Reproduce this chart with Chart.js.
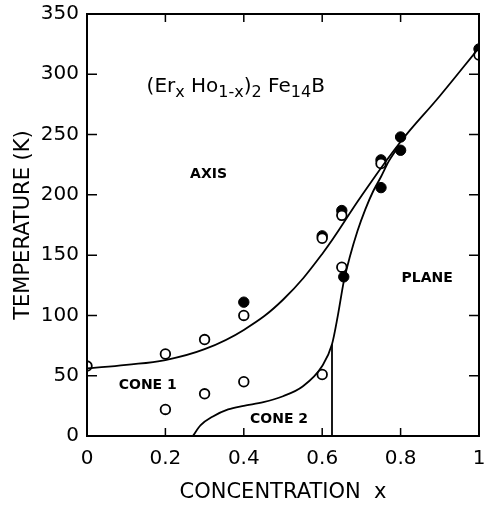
<!DOCTYPE html>
<html>
<head>
<meta charset="utf-8">
<script src="https://cdn.jsdelivr.net/npm/chart.js@4/dist/chart.umd.min.js"></script>
<style>
  html, body { margin: 0; padding: 0; background: #fff; }
</style>
</head>
<body>
<canvas id="chart" width="489" height="505"></canvas>
<script>
// measured points (open = one method, filled = the other)
const openX = [0, 0.2, 0.3, 0.4, 0.2, 0.3, 0.4, 0.6, 0.6, 0.65, 0.65, 0.75, 1.0];
const openY = [58, 68, 80, 100, 22, 35, 45, 51, 164, 183, 140, 226, 316];
const filledX = [0.4, 0.6, 0.65, 0.655, 0.75, 0.75, 0.8, 0.8, 1.0];
const filledY = [111, 166, 187, 132, 229, 206, 248, 237, 321];

// phase boundaries
const upperX = [0, 0.1, 0.2, 0.3, 0.4, 0.5, 0.6, 0.7, 0.8, 0.9, 1.0];
const upperY = [56, 59, 63, 72, 88, 113, 151, 199, 244, 282, 322];
const lowerX = [0.27, 0.29, 0.32, 0.36, 0.4, 0.45, 0.5, 0.55, 0.6, 0.625, 0.64, 0.655, 0.67, 0.69, 0.71, 0.73, 0.75, 0.77, 0.79];
const lowerY = [0, 9, 16, 22, 25, 28, 33, 41, 58, 76, 100, 128, 148, 170, 188, 203, 215, 228, 238];
const wallX = [0.625, 0.625];
const wallY = [0, 76];

const xTicks = [0, 0.2, 0.4, 0.6, 0.8, 1];
const yTicks = [0, 50, 100, 150, 200, 250, 300, 350];

const regionLabels = [
  { text: "AXIS", x: 0.31, y: 217 },
  { text: "CONE 1", x: 0.155, y: 42 },
  { text: "CONE 2", x: 0.49, y: 14 },
  { text: "PLANE", x: 0.868, y: 131 },
];

const pts = (xs, ys) => xs.map((x, i) => ({ x: x, y: ys[i] }));
const FONT = "'DejaVu Sans', sans-serif";

// frame, inward ticks, region names and the formula
const decor = {
  id: "decor",
  afterDatasetsDraw(chart) {
    const { ctx, chartArea: a, scales } = chart;
    ctx.save();
    ctx.strokeStyle = "#000";
    ctx.lineWidth = 2;
    ctx.strokeRect(a.left, a.top, a.right - a.left, a.bottom - a.top);
    ctx.lineWidth = 1.5;
    xTicks.forEach(v => {
      const px = scales.x.getPixelForValue(v);
      ctx.beginPath();
      ctx.moveTo(px, a.bottom); ctx.lineTo(px, a.bottom - 8);
      ctx.moveTo(px, a.top); ctx.lineTo(px, a.top + 8);
      ctx.stroke();
    });
    yTicks.forEach(v => {
      const py = scales.y.getPixelForValue(v);
      ctx.beginPath();
      ctx.moveTo(a.left, py); ctx.lineTo(a.left + 10, py);
      ctx.moveTo(a.right, py); ctx.lineTo(a.right - 10, py);
      ctx.stroke();
    });

    ctx.fillStyle = "#000";
    ctx.font = "bold 14px " + FONT;
    ctx.textAlign = "center";
    ctx.textBaseline = "middle";
    regionLabels.forEach(l => {
      ctx.fillText(l.text, scales.x.getPixelForValue(l.x), scales.y.getPixelForValue(l.y));
    });

    // (Er_x Ho_1-x)_2 Fe_14 B
    const parts = [
      ["(Er", 0], ["x", 1], [" Ho", 0], ["1-x", 1], [")", 0], ["2", 1], [" Fe", 0], ["14", 1], ["B", 0],
    ];
    let cx = scales.x.getPixelForValue(0.152);
    const base = scales.y.getPixelForValue(285);
    ctx.textAlign = "left";
    ctx.textBaseline = "alphabetic";
    parts.forEach(([t, sub]) => {
      ctx.font = (sub ? "16px " : "20px ") + FONT;
      ctx.fillText(t, cx, base + (sub ? 5 : 0));
      cx += ctx.measureText(t).width;
    });
    ctx.restore();
  },
};

const lineStyle = { showLine: true, pointRadius: 0, borderColor: "#000", borderWidth: 1.8, fill: false };

new Chart(document.getElementById("chart"), {
  type: "scatter",
  plugins: [decor],
  data: {
    datasets: [
      { ...lineStyle, data: pts(upperX, upperY), tension: 0.4 },
      { ...lineStyle, data: pts(lowerX, lowerY), cubicInterpolationMode: "monotone" },
      { ...lineStyle, data: pts(wallX, wallY) },
      {
        data: pts(openX, openY), pointRadius: 4.8, pointBorderWidth: 1.8,
        pointBackgroundColor: "#fff", pointBorderColor: "#000",
      },
      {
        data: pts(filledX, filledY), pointRadius: 5.2, pointBorderWidth: 1,
        pointBackgroundColor: "#000", pointBorderColor: "#000",
      },
    ],
  },
  options: {
    responsive: false,
    maintainAspectRatio: false,
    animation: false,
    layout: { padding: { top: 14, right: 10, left: 0, bottom: 0 } },
    plugins: { legend: { display: false }, tooltip: { enabled: false } },
    scales: {
      x: {
        type: "linear", min: 0, max: 1,
        afterFit: s => { s.height = 69; s.paddingLeft = 0; s.paddingRight = 0; },
        afterBuildTicks: s => { s.ticks = xTicks.map(v => ({ value: v })); },
        grid: { display: false, drawTicks: false },
        border: { display: false },
        ticks: {
          color: "#000", padding: 11, font: { family: FONT, size: 20 },
          callback: v => String(v),
        },
        title: {
          display: true, text: "CONCENTRATION  x", color: "#000",
          font: { family: FONT, size: 21 }, padding: { top: 0, bottom: 0 },
        },
      },
      y: {
        type: "linear", min: 0, max: 350,
        afterFit: s => { s.width = 87; s.paddingTop = 0; s.paddingBottom = 0; },
        afterBuildTicks: s => { s.ticks = yTicks.map(v => ({ value: v })); },
        grid: { display: false, drawTicks: false },
        border: { display: false },
        ticks: { color: "#000", padding: 8, font: { family: FONT, size: 20 } },
        title: {
          display: true, text: "TEMPERATURE (K)", color: "#000",
          font: { family: FONT, size: 21 }, padding: { top: 11, bottom: 0 },
        },
      },
    },
  },
});
</script>
</body>
</html>
